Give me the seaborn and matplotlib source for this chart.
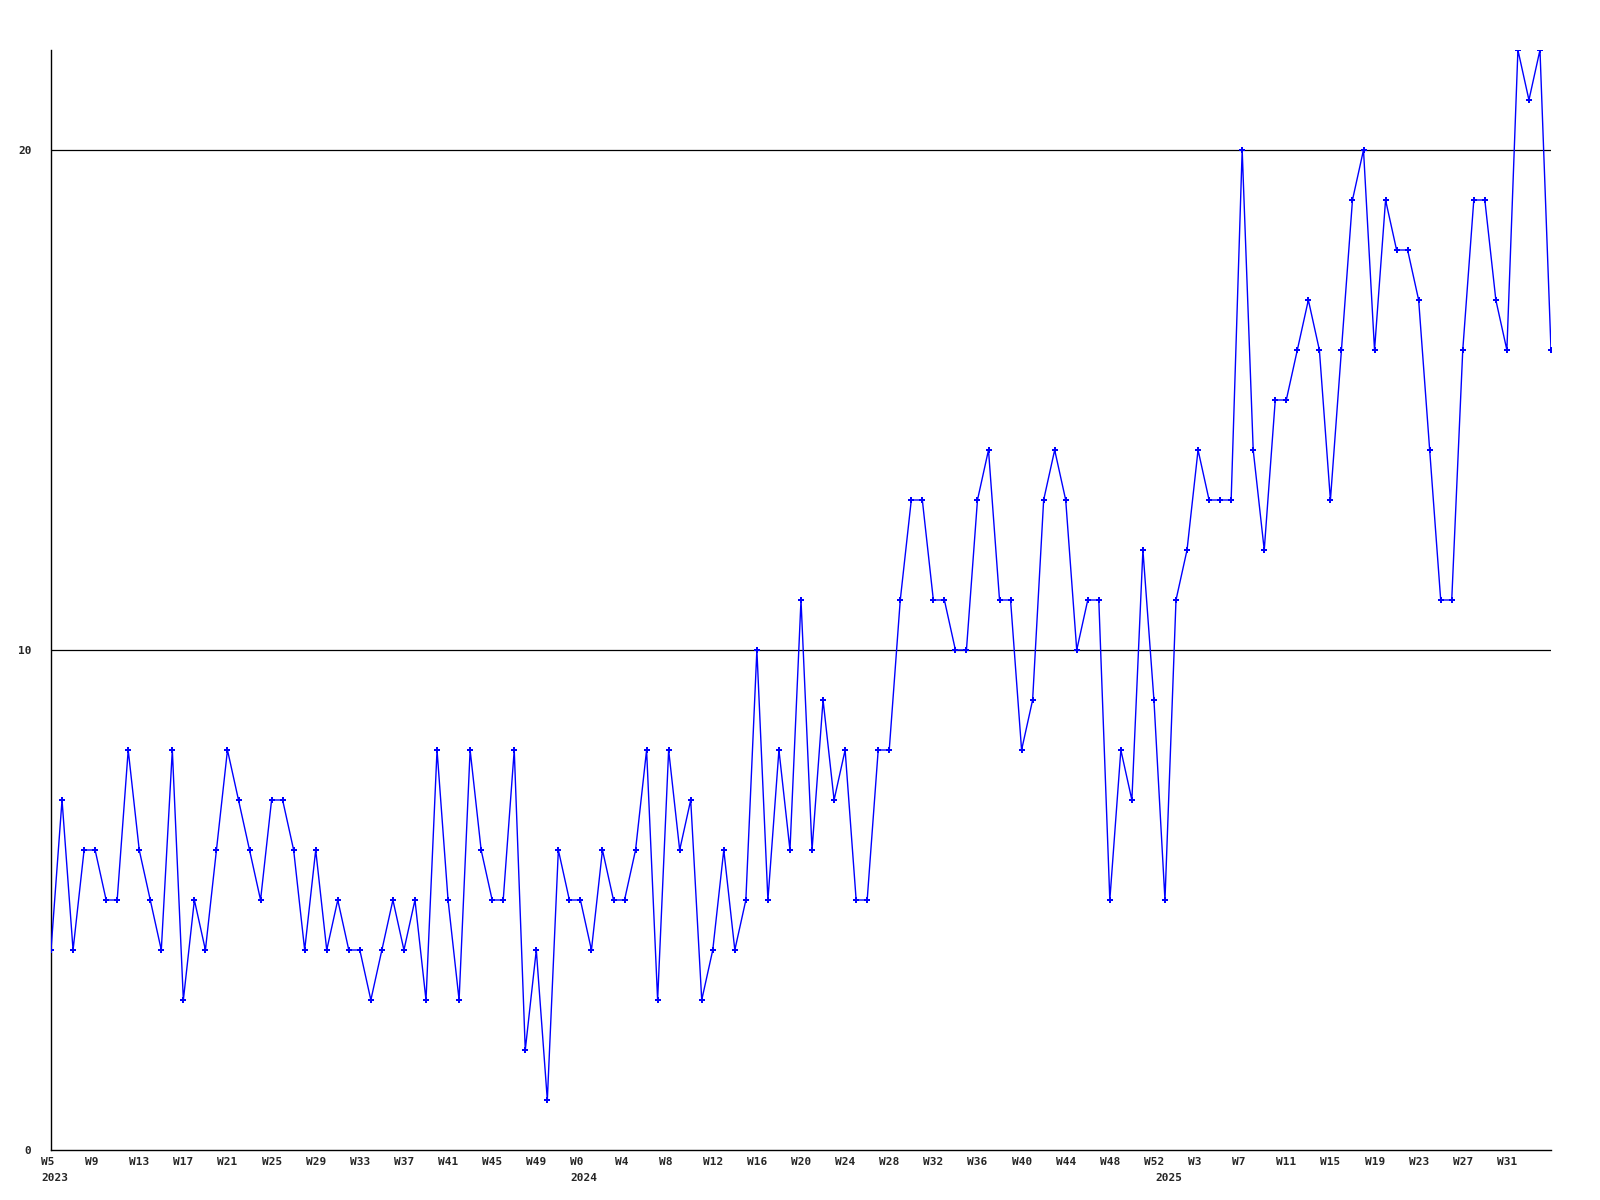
import numpy as np
import pandas as pd
import matplotlib
matplotlib.use("Agg")
import matplotlib.pyplot as plt
import matplotlib.transforms as mtransforms
import seaborn as sns

# ── Data ───────────────────────────────────────────────
weeks_2023 = list(range(5, 53))
weeks_2024 = list(range(0, 53))
weeks_2025 = list(range(0, 36))

counts_2023 = [4, 7, 4, 6, 6, 5, 5, 8, 6, 5, 4, 8, 3, 5, 4, 6, 8, 7, 6, 5,
               7, 7, 6, 4, 6, 4, 5, 4, 4, 3, 4, 5, 4, 5, 3, 8, 5, 3, 8, 6,
               5, 5, 8, 2, 4, 1, 6, 5]
counts_2024 = [5, 4, 6, 5, 5, 6, 8, 3, 8, 6, 7, 3, 4, 6, 4, 5, 10, 5, 8, 6,
               11, 6, 9, 7, 8, 5, 5, 8, 8, 11, 13, 13, 11, 11, 10, 10, 13, 14, 11, 11,
               8, 9, 13, 14, 13, 10, 11, 11, 5, 8, 7, 12, 9]
counts_2025 = [5, 11, 12, 14, 13, 13, 13, 20, 14, 12, 15, 15, 16, 17, 16, 13, 16, 19, 20, 16,
               19, 18, 18, 17, 14, 11, 11, 16, 19, 19, 17, 16, 22, 21, 22, 16]

years = [2023] * len(weeks_2023) + [2024] * len(weeks_2024) + [2025] * len(weeks_2025)
weeks = weeks_2023 + weeks_2024 + weeks_2025
counts = counts_2023 + counts_2024 + counts_2025

df = pd.DataFrame({"year": years, "week": weeks, "count": counts})
df["idx"] = np.arange(len(df))

# ── Plot ───────────────────────────────────────────────
sns.set_style("white")
plt.rcParams["font.family"] = ["DejaVu Sans Mono", "DejaVu Sans"]

fig = plt.figure(figsize=(16, 12), dpi=100)
ax = fig.add_axes([51 / 1600, 50 / 1200, 1500 / 1600, 1100 / 1200])

for yv in (10, 20):
    ax.axhline(yv, color="black", linewidth=0.9, zorder=1)

sns.lineplot(data=df, x="idx", y="count", ax=ax, color="#0000ff",
             linewidth=1.0, marker="P", markersize=4, markeredgewidth=0,
             zorder=3)

ax.set_xlim(0, len(df) - 1)
ax.set_ylim(0, 22)
ax.set_xticks([])

# week labels every 4 weeks, year under first week of each year
lab_trans = ax.get_xaxis_transform() + mtransforms.ScaledTranslation(
    -10 / 100, -12 / 100, fig.dpi_scale_trans)
year_trans = ax.get_xaxis_transform() + mtransforms.ScaledTranslation(
    -10 / 100, -28 / 100, fig.dpi_scale_trans)

prev_year = None
for i, row in df.iterrows():
    if i % 4 == 0 and i < len(df) - 1:
        ax.text(i, 0, f"W{row['week']}", transform=lab_trans, ha="left",
                va="center", fontsize=8, fontweight="bold", clip_on=False)
    if row["year"] != prev_year:
        ax.text(i, 0, str(row["year"]), transform=year_trans, ha="left",
                va="center", fontsize=8, fontweight="bold", clip_on=False)
        prev_year = row["year"]

ax.set_yticks([0, 10, 20])
ax.tick_params(axis="both", length=0, labelsize=8)
ax.tick_params(axis="y", pad=14)
for lab in ax.get_yticklabels():
    lab.set_fontweight("bold")

ax.set_xlabel("")
ax.set_ylabel("")
for side in ("top", "right"):
    ax.spines[side].set_visible(False)
for side in ("left", "bottom"):
    ax.spines[side].set_color("black")
    ax.spines[side].set_linewidth(1.0)
ax.grid(False)

fig.savefig("out.png", dpi=100, facecolor="white")
